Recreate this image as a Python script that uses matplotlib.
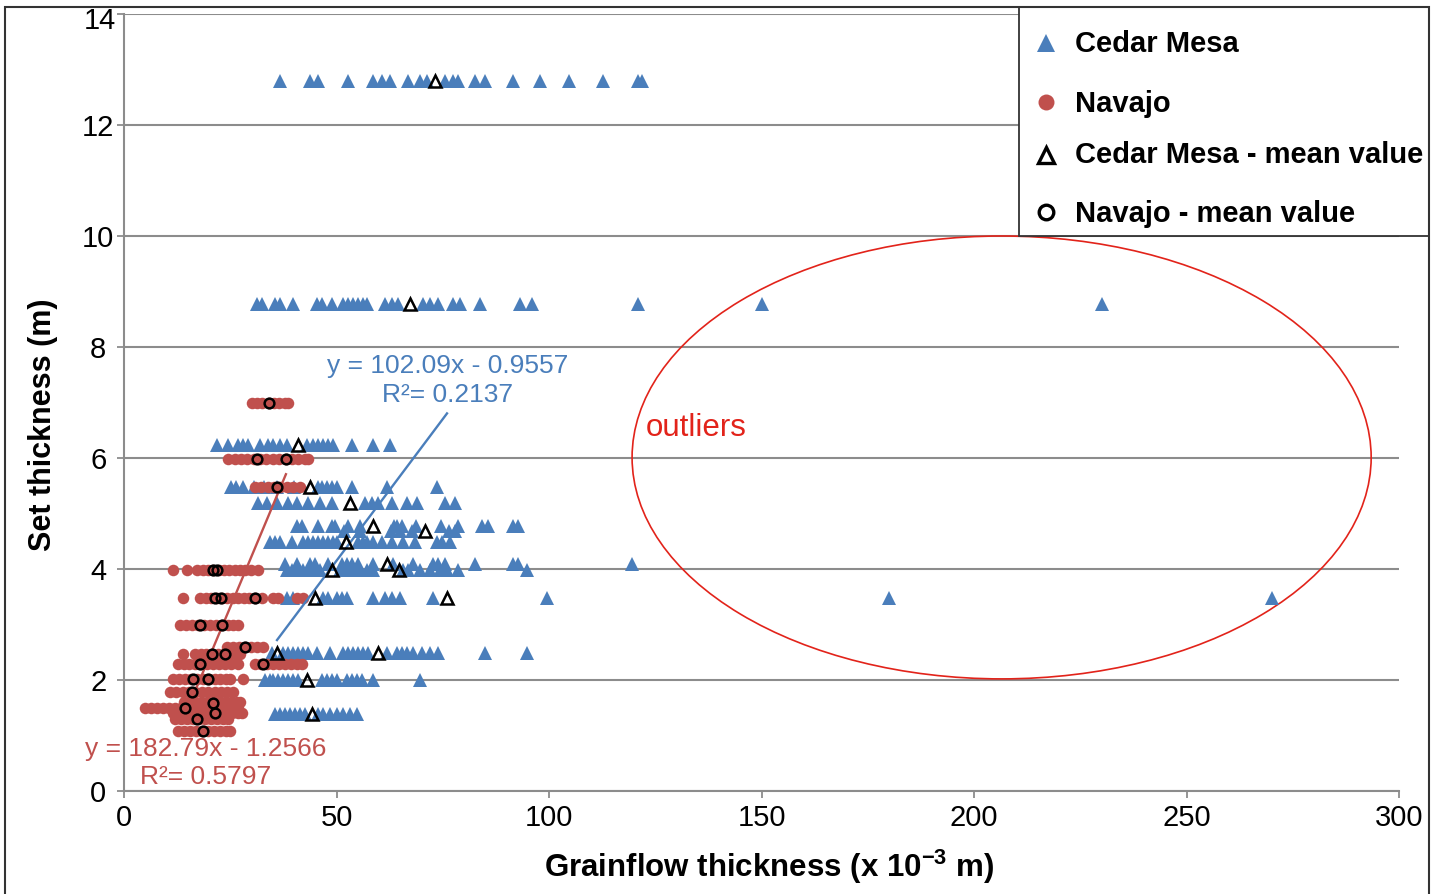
import matplotlib
matplotlib.use("Agg")
import matplotlib.pyplot as plt
from matplotlib.patches import Ellipse, Rectangle
from matplotlib.lines import Line2D
import matplotlib.transforms as mtransforms
import numpy as np

plt.rcParams['font.family'] = ['Liberation Sans', 'DejaVu Sans']
plt.rcParams['mathtext.fontset'] = 'custom'
plt.rcParams['mathtext.rm'] = 'Liberation Sans'
plt.rcParams['mathtext.bf'] = 'Liberation Sans:bold'

# ---- Cedar Mesa: grainflow thickness (x 10^-3 m) grouped by set thickness (m)
cedar_rows = {
    12.8: [36.7, 43.8, 45.6, 52.7, 58.6, 60.7, 62.6, 66.8, 69.6, 71.3, 75.5, 77.4,
           78.6, 82.6, 84.9, 91.5, 97.9, 104.7, 112.7, 121.0, 121.9],
    8.77: [31.3, 32.5, 35.5, 36.7, 39.8, 45.4, 46.6, 48.9, 51.5, 52.7, 53.9, 55.1,
           56.2, 57.2, 61.4, 63.1, 64.5, 70.4, 72.0, 73.9, 77.4, 79.1, 83.8, 93.2,
           96.0, 120.9, 150.1, 230.1],
    6.23: [21.9, 24.5, 26.8, 28.0, 29.2, 32.0, 33.9, 35.1, 36.7, 38.4, 43.1, 44.5,
           45.6, 46.8, 48.0, 49.2, 53.6, 58.6, 62.6],
    5.48: [25.2, 26.4, 28.0, 30.5, 33.0, 36.0, 40.0, 45.6, 46.6, 47.8, 48.9, 50.1,
           53.6, 61.9, 73.6],
    5.19: [31.5, 33.6, 36.0, 38.6, 40.7, 43.3, 46.1, 48.9, 56.7, 58.4, 59.8, 63.1,
           66.6, 68.9, 75.5, 77.9],
    4.78: [40.7, 41.9, 45.6, 48.9, 49.6, 52.7, 55.5, 63.5, 64.2, 65.4, 68.7, 74.6,
           78.6, 84.2, 85.6, 91.5, 92.7],
    4.68: [51.8, 55.5, 62.8, 64.9, 67.8, 76.5, 77.9],
    4.49: [34.4, 35.5, 36.7, 39.5, 42.1, 43.3, 44.5, 45.6, 46.8, 48.0, 49.2, 50.1,
           55.1, 56.2, 57.2, 58.6, 60.7, 63.1, 65.6, 68.5, 73.6, 74.8, 76.7],
    4.09: [37.9, 40.7, 43.8, 44.9, 48.0, 51.3, 52.5, 53.6, 55.1, 58.6, 63.3, 68.0,
           72.7, 73.9, 75.5, 82.6, 91.5, 92.7, 119.5],
    3.98: [38.4, 39.5, 40.7, 42.1, 43.8, 44.9, 46.1, 50.8, 52.5, 53.9, 55.5, 57.2,
           58.6, 65.6, 66.8, 69.6, 72.0, 74.4, 76.0, 78.6, 94.8],
    3.48: [38.4, 39.8, 46.8, 48.0, 50.1, 51.3, 52.5, 58.6, 61.4, 63.1, 64.9, 72.7,
           99.5, 180.0, 270.0],
    2.49: [34.8, 37.4, 38.6, 39.8, 40.9, 42.1, 43.3, 45.4, 48.5, 51.5, 52.7, 53.9,
           55.1, 56.2, 57.4, 61.9, 64.2, 65.4, 66.6, 68.0, 70.1, 72.0, 73.9, 84.9,
           94.8],
    2.0: [33.2, 34.4, 35.1, 36.2, 37.4, 38.6, 39.8, 40.9, 46.6, 47.8, 48.9, 50.1,
          52.5, 53.6, 54.8, 56.0, 58.6, 69.6],
    1.39: [35.5, 36.7, 37.9, 39.1, 40.2, 41.4, 42.6, 45.6, 46.8, 48.5, 50.1, 51.5,
           53.2, 54.8],
}

# ---- Navajo: grainflow thickness (x 10^-3 m) grouped by set thickness (m)
navajo_rows = {
    6.99: [30.0, 31.2, 32.5, 34.0, 35.2, 36.5, 37.8, 38.6],
    5.98: [24.5, 26.0, 27.5, 29.0, 30.5, 32.0, 33.5, 35.0, 36.5, 38.0, 39.5, 41.0,
           42.5, 43.3],
    5.48: [30.8, 32.3, 33.8, 35.3, 36.8, 38.3, 39.8, 41.4],
    3.98: [11.5, 14.8, 17.2, 18.5, 19.8, 21.0, 22.3, 23.5, 24.8, 26.0, 27.3, 28.5,
           29.8, 31.5],
    3.48: [13.9, 17.9, 19.2, 20.5, 21.8, 23.0, 24.3, 25.6, 26.9, 28.2, 29.5, 30.8,
           32.5, 35.1, 36.2, 40.7, 42.1],
    3.0: [13.2, 14.6, 16.0, 17.4, 18.8, 20.2, 21.6, 23.0, 24.4, 25.6, 26.8],
    2.6: [24.2, 25.6, 27.0, 28.4, 29.8, 31.2, 32.7],
    2.47: [13.9, 16.7, 18.0, 19.4, 20.8, 22.2, 23.6, 25.0, 26.2, 27.3],
    2.29: [12.7, 14.0, 15.4, 16.8, 18.2, 19.6, 21.0, 22.4, 23.8, 25.2, 26.8, 30.8,
           32.2, 33.6, 35.0, 36.4, 37.8, 39.2, 40.6, 41.9],
    2.02: [11.5, 12.9, 14.3, 15.7, 17.1, 18.5, 19.9, 21.3, 22.7, 24.0, 24.9, 28.0],
    1.78: [10.8, 12.3, 13.8, 15.3, 16.8, 18.3, 19.8, 21.3, 22.8, 24.3, 25.6],
    1.6: [14.0, 15.4, 16.8, 18.2, 19.6, 21.0, 22.4, 23.8, 25.2, 26.6, 27.3],
    1.5: [4.9, 6.3, 7.7, 9.1, 10.5, 11.9, 13.3, 14.7, 16.1, 17.5, 18.9, 20.3, 21.7,
          23.1, 24.5, 25.8, 26.8],
    1.4: [11.5, 12.9, 14.3, 15.7, 17.1, 18.5, 19.9, 21.3, 22.7, 24.1, 25.5, 26.8,
          27.8],
    1.3: [12.0, 13.4, 14.8, 16.2, 17.6, 19.0, 20.4, 21.8, 23.2, 24.5],
    1.08: [12.7, 14.1, 15.5, 16.9, 18.3, 19.7, 21.1, 22.5, 23.9, 24.9],
}

# ---- Mean values per set
cedar_mean_x = [73.2, 67.3, 40.9, 43.8, 53.2, 58.6, 70.8, 52.2, 61.9, 48.9, 64.7,
                44.9, 76.0, 36.0, 59.8, 43.1, 44.2]
cedar_mean_y = [12.8, 8.77, 6.23, 5.48, 5.19, 4.78, 4.68, 4.49, 4.09, 3.98, 3.98,
                3.48, 3.48, 2.49, 2.49, 2.0, 1.39]
navajo_mean_x = [34.1, 31.3, 38.1, 36.0, 20.9, 21.9, 21.4, 22.8, 30.8, 17.9, 23.1,
                 28.5, 20.7, 23.8, 17.9, 32.7, 16.2, 19.8, 16.0, 14.4, 20.9, 21.4,
                 17.2, 18.6]
navajo_mean_y = [6.99, 5.98, 5.98, 5.48, 3.98, 3.98, 3.48, 3.48, 3.48, 3.0, 3.0,
                 2.6, 2.47, 2.47, 2.29, 2.29, 2.02, 2.02, 1.78, 1.5, 1.59, 1.4,
                 1.3, 1.08]

# ---- Linear trendlines (x in metres)
cedar_fit = (102.09, -0.9557, 0.2137)
navajo_fit = (182.79, -1.2566, 0.5797)

x_ticks = [0, 50, 100, 150, 200, 250, 300]
y_ticks = [0, 2, 4, 6, 8, 10, 12, 14]

legend_labels = ['Cedar Mesa', 'Navajo', 'Cedar Mesa - mean value',
                 'Navajo - mean value']

BLUE = '#4a7ebb'
RED = '#c0504d'
OUTLIER_RED = '#e2231a'
GRID = '#8c8c8c'
FRAME = '#333333'

W, H = 1445, 894


def flatten(rows):
    xs, ys = [], []
    for y, row in rows.items():
        xs.extend(row)
        ys.extend([y] * len(row))
    return np.array(xs), np.array(ys)


def fx(px):
    return px / W


def fy(py):
    return 1 - py / H


cx, cy = flatten(cedar_rows)
nx, ny = flatten(navajo_rows)

fig = plt.figure(figsize=(W / 100, H / 100), dpi=100)
ax = fig.add_axes([fx(124), fy(791), 1275 / W, 777 / H])

ax.plot(cx, cy, linestyle='none', marker='^', ms=9.5, color=BLUE, mec=BLUE,
        mew=0, zorder=3)
ax.plot(nx, ny, linestyle='none', marker='o', ms=8.3, color=RED, mec=RED,
        mew=0, zorder=3)

# trendlines over the range of the mean values
for mx, (slope, icpt, _), col in ((cedar_mean_x, cedar_fit, BLUE),
                                   (navajo_mean_x, navajo_fit, RED)):
    xr = np.array([min(mx), max(mx)])
    ax.plot(xr, slope * xr / 1000 + icpt, color=col, lw=1.7, zorder=4)

ax.plot(cedar_mean_x, cedar_mean_y, linestyle='none', marker='^', ms=8,
        mfc='none', mec='black', mew=1.8, zorder=5)
ax.plot(navajo_mean_x, navajo_mean_y, linestyle='none', marker='o', ms=7,
        mfc='none', mec='black', mew=1.8, zorder=5)

ax.set_xlim(x_ticks[0], x_ticks[-1])
ax.set_ylim(y_ticks[0], y_ticks[-1])
ax.set_xticks(x_ticks)
ax.set_yticks(y_ticks)
# the top label sits a little below its gridline
ax.set_yticklabels([str(v) for v in y_ticks[:-1]] + [''])
ax.set_axisbelow(True)
ax.yaxis.grid(True, color=GRID, lw=1.5)
ax.xaxis.grid(False)
for side in ('top', 'right'):
    ax.spines[side].set_visible(False)
for side in ('left', 'bottom'):
    ax.spines[side].set_color(GRID)
    ax.spines[side].set_linewidth(1.5)
ax.tick_params(direction='out', length=5, width=1.3, color=GRID,
               labelsize=21, labelcolor='black')
ax.tick_params(axis='x', pad=4)
ax.tick_params(axis='y', pad=13.5)
for lab in ax.get_yticklabels():
    lab.set_horizontalalignment('center')
top_off = mtransforms.ScaledTranslation(-24 / 100, -7 / 100, fig.dpi_scale_trans)
ax.text(0, y_ticks[-1], str(y_ticks[-1]), fontsize=21, ha='center', va='center',
        transform=ax.get_yaxis_transform() + top_off, clip_on=False)

ax.set_xlabel(r'Grainflow thickness (x 10$^{\mathbf{-3}}$ m)', fontsize=22.5,
              fontweight='bold')
ax.xaxis.set_label_coords((769 - 124) / 1275, (791 - 848) / 777)
ax.set_ylabel('Set thickness (m)', fontsize=22, fontweight='bold')
ax.yaxis.set_label_coords((58 - 124) / 1275, (791 - 425) / 777)

# trendline equations
ax.text(76.2, 7.66, f'y = {cedar_fit[0]}x - {abs(cedar_fit[1])}', color=BLUE,
        fontsize=19, ha='center', va='center')
ax.text(76.2, 7.14, f'R²= {cedar_fit[2]}', color=BLUE, fontsize=19,
        ha='center', va='center')
ax.text(19.2, 0.76, f'y = {navajo_fit[0]}x - {abs(navajo_fit[1])}', color=RED,
        fontsize=19, ha='center', va='center', clip_on=False, zorder=6)
ax.text(19.2, 0.25, f'R²= {navajo_fit[2]}', color=RED, fontsize=19,
        ha='center', va='center', clip_on=False, zorder=6)

# outlier annotation
ax.add_patch(Ellipse((206.5, 6.01), 173.9, 7.98, fill=False,
                     edgecolor=OUTLIER_RED, lw=1.2, zorder=2))
ax.text(122.8, 6.54, 'outliers', color=OUTLIER_RED, fontsize=22.5,
        ha='left', va='center')

# legend box in the upper right corner
fig.patches.append(Rectangle((fx(1019), fy(236)), (1429 - 1019) / W,
                             (236 - 7) / H, transform=fig.transFigure,
                             facecolor='white', edgecolor=FRAME, lw=1.3,
                             zorder=10))
legend_styles = [
    dict(marker='^', ms=12.5, color=BLUE, mew=0),
    dict(marker='o', ms=11.5, color=RED, mew=0),
    dict(marker='^', ms=11, mfc='none', mec='black', mew=2.4),
    dict(marker='o', ms=10.5, mfc='none', mec='black', mew=2.4),
]
marker_y = [43, 101.5, 155, 211.5]
baseline_y = [52, 111.5, 163, 221.5]
for lab, style, my, by in zip(legend_labels, legend_styles, marker_y,
                              baseline_y):
    fig.lines.append(Line2D([fx(1046)], [fy(my)], linestyle='none',
                            transform=fig.transFigure, zorder=11, **style))
    fig.text(fx(1075), fy(by), lab, fontsize=21, fontweight='bold',
             ha='left', va='baseline', zorder=11)

# outer chart border
fig.patches.append(Rectangle((fx(5), -0.05), (1429 - 5) / W, 1.05 - 7 / H,
                             transform=fig.transFigure, fill=False,
                             edgecolor=FRAME, lw=1.5, zorder=12))

fig.savefig('out.png', dpi=100)
